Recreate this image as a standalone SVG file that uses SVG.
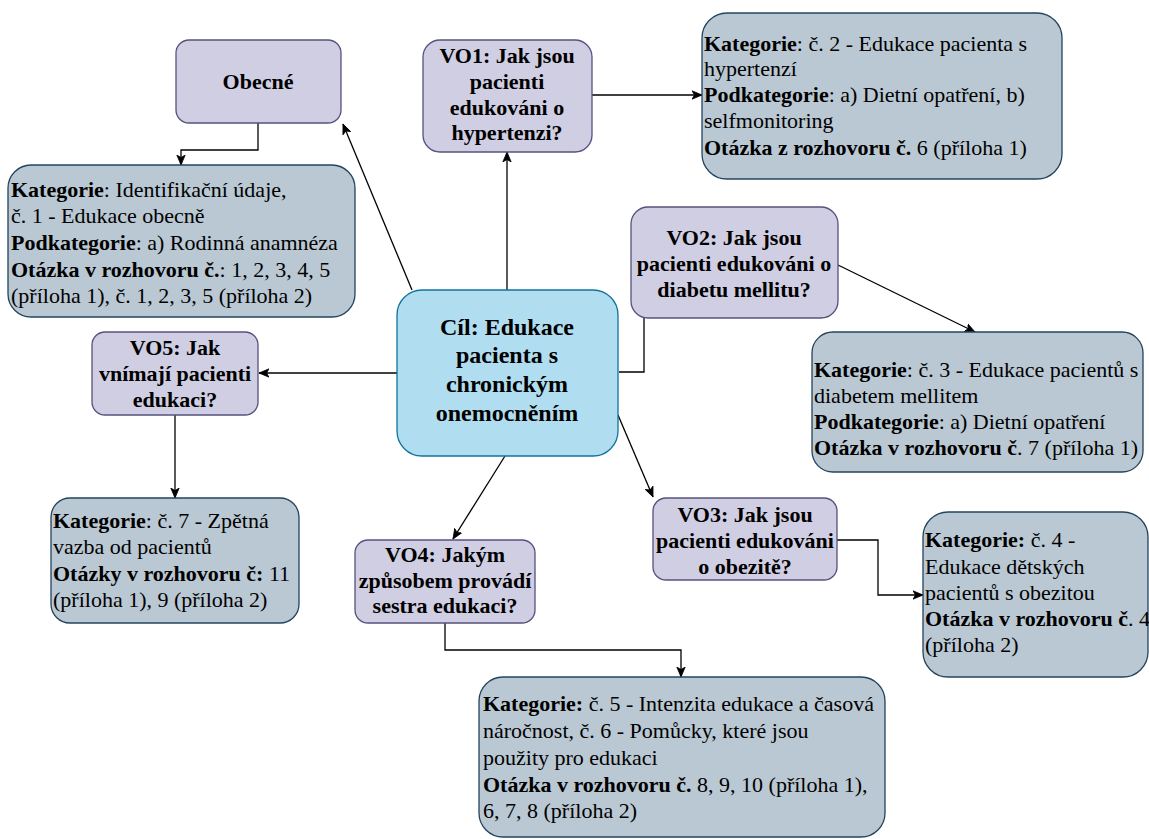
<svg xmlns="http://www.w3.org/2000/svg" width="1149" height="839" viewBox="0 0 1149 839">
<style>
.p{fill:#d0cee2;stroke:#56517e;stroke-width:1.3}
.g{fill:#bac8d3;stroke:#23445d;stroke-width:1.3}
.c{fill:#b1ddf0;stroke:#10739e;stroke-width:1.3}
text{font-family:'Liberation Serif','DejaVu Serif',serif;font-size:22px;fill:#000}
.b{font-weight:bold}
.m{text-anchor:middle;font-weight:bold}
.big{font-size:24px}
.conn path{fill:none;stroke:#000;stroke-width:1.3}
</style>
<defs>
<marker id="ah" markerUnits="userSpaceOnUse" markerWidth="12" markerHeight="12" refX="10" refY="5" orient="auto">
<path d="M0,0.8 L10,5 L0,9.2 L2.5,5 z" fill="#000" stroke="#000" stroke-width="0.8"/>
</marker>
</defs>
<rect width="1149" height="839" fill="#fff"/>

<g class="conn">
<path d="M412,290 L343,124" marker-end="url(#ah)"/>
<path d="M258,123 L258,150 L181,150 L181,165" marker-end="url(#ah)"/>
<path d="M507,290 L507,152" marker-end="url(#ah)"/>
<path d="M592,95 L702,95" marker-end="url(#ah)"/>
<path d="M619,372 L644,372 L644,318"/>
<path d="M838,265 L975,332" marker-end="url(#ah)"/>
<path d="M618,415 L653,497" marker-end="url(#ah)"/>
<path d="M837,540 L878,540 L878,595 L923,595" marker-end="url(#ah)"/>
<path d="M505,456 L453,539" marker-end="url(#ah)"/>
<path d="M445,623 L445,650 L681,650 L681,677" marker-end="url(#ah)"/>
<path d="M397,373 L259,373" marker-end="url(#ah)"/>
<path d="M175,415 L175,498" marker-end="url(#ah)"/>
</g>

<g id="obecne">
<rect class="p" x="176" y="40" width="165" height="83" rx="13"/>
<text class="m" x="258" y="89">Obecné</text>
</g>

<g id="kat1">
<rect class="g" x="8" y="165" width="347" height="152" rx="23"/>
<text x="11" y="197"><tspan class="b">Kategorie</tspan>: Identifikační údaje,</text>
<text x="11" y="223">č. 1 - Edukace obecně</text>
<text x="11" y="250"><tspan class="b">Podkategorie</tspan>: a) Rodinná anamnéza</text>
<text x="11" y="277"><tspan class="b">Otázka v rozhovoru č.</tspan>: 1, 2, 3, 4, 5</text>
<text x="11" y="303">(příloha 1), č. 1, 2, 3, 5 (příloha 2)</text>
</g>

<g id="vo1">
<rect class="p" x="423" y="40" width="169" height="112" rx="17"/>
<text class="m" x="507" y="63">VO1: Jak jsou</text>
<text class="m" x="507" y="89">pacienti</text>
<text class="m" x="507" y="115">edukováni o</text>
<text class="m" x="507" y="140">hypertenzi?</text>
</g>

<g id="kat2">
<rect class="g" x="702" y="13" width="360" height="166" rx="25"/>
<text x="704" y="51"><tspan class="b">Kategorie</tspan>: č. 2 - Edukace pacienta s</text>
<text x="704" y="76">hypertenzí</text>
<text x="704" y="102"><tspan class="b">Podkategorie</tspan>: a) Dietní opatření, b)</text>
<text x="704" y="128">selfmonitoring</text>
<text x="704" y="155"><tspan class="b">Otázka z rozhovoru č.</tspan> 6 (příloha 1)</text>
</g>

<g id="vo2">
<rect class="p" x="631" y="207" width="207" height="111" rx="17"/>
<text class="m" x="734" y="245">VO2: Jak jsou</text>
<text class="m" x="734" y="271">pacienti edukováni o</text>
<text class="m" x="734" y="297">diabetu mellitu?</text>
</g>

<g id="kat3">
<rect class="g" x="812" y="332" width="331" height="140" rx="21"/>
<text x="814" y="377"><tspan class="b">Kategorie</tspan>: č. 3 - Edukace pacientů s</text>
<text x="814" y="403">diabetem mellitem</text>
<text x="814" y="429"><tspan class="b">Podkategorie</tspan>: a) Dietní opatření</text>
<text x="814" y="455"><tspan class="b">Otázka v rozhovoru č</tspan>. 7 (příloha 1)</text>
</g>

<g id="cil">
<rect class="c" x="397" y="290" width="221" height="166" rx="25"/>
<text class="m big" x="507" y="335">Cíl: Edukace</text>
<text class="m big" x="507" y="363">pacienta s</text>
<text class="m big" x="507" y="392">chronickým</text>
<text class="m big" x="507" y="421">onemocněním</text>
</g>

<g id="vo5">
<rect class="p" x="92" y="332" width="166" height="83" rx="13"/>
<text class="m" x="175" y="355">VO5: Jak</text>
<text class="m" x="175" y="381">vnímají pacienti</text>
<text class="m" x="175" y="407">edukaci?</text>
</g>

<g id="kat7">
<rect class="g" x="51" y="498" width="248" height="125" rx="19"/>
<text x="53" y="528"><tspan class="b">Kategorie</tspan>: č. 7 - Zpětná</text>
<text x="53" y="554">vazba od pacientů</text>
<text x="53" y="581"><tspan class="b">Otázky v rozhovoru č:</tspan> 11</text>
<text x="53" y="607">(příloha 1), 9 (příloha 2)</text>
</g>

<g id="vo4">
<rect class="p" x="355" y="540" width="180" height="83" rx="13"/>
<text class="m" x="445" y="562">VO4: Jakým</text>
<text class="m" x="445" y="588">způsobem provádí</text>
<text class="m" x="445" y="613">sestra edukaci?</text>
</g>

<g id="vo3">
<rect class="p" x="653" y="498" width="184" height="82" rx="13"/>
<text class="m" x="745" y="522">VO3: Jak jsou</text>
<text class="m" x="745" y="548">pacienti edukováni</text>
<text class="m" x="745" y="574">o obezitě?</text>
</g>

<g id="kat4">
<rect class="g" x="923" y="512" width="225" height="165" rx="25"/>
<text x="925" y="547"><tspan class="b">Kategorie:</tspan> č. 4 -</text>
<text x="925" y="574">Edukace dětských</text>
<text x="925" y="600">pacientů s obezitou</text>
<text x="925" y="626"><tspan class="b">Otázka v rozhovoru č</tspan>. 4</text>
<text x="925" y="652">(příloha 2)</text>
</g>

<g id="kat5">
<rect class="g" x="479" y="677" width="406" height="160" rx="24"/>
<text x="483" y="711"><tspan class="b">Kategorie:</tspan> č. 5 - Intenzita edukace a časová</text>
<text x="483" y="738">náročnost, č. 6 - Pomůcky, které jsou</text>
<text x="483" y="765">použity pro edukaci</text>
<text x="483" y="792"><tspan class="b">Otázka v rozhovoru č.</tspan> 8, 9, 10 (příloha 1),</text>
<text x="483" y="818">6, 7, 8 (příloha 2)</text>
</g>
</svg>
